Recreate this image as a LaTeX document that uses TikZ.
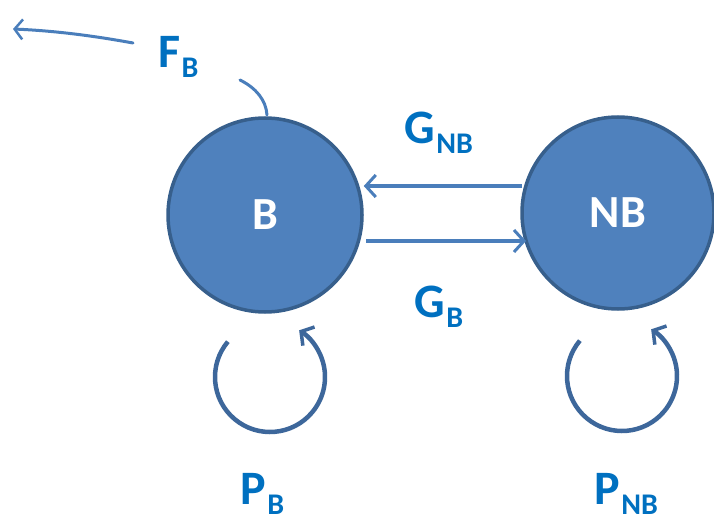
\documentclass[tikz,border=0pt]{standalone}
\usepackage{fontspec}
\setmainfont{Carlito}
\usetikzlibrary{arrows.meta}
\definecolor{cfill}{HTML}{4F81BD}
\definecolor{cdraw}{HTML}{375F8C}
\definecolor{carrow}{HTML}{4A7EBB}
\definecolor{cloop}{HTML}{3D679B}
\definecolor{clabel}{HTML}{0070C0}
\tikzset{
  state/.style={circle,fill=cfill,draw=cdraw,line width=3.5pt,text=white,font=\fontsize{46}{46}\selectfont\bfseries,inner sep=0pt},
  flow/.style={draw=carrow,line width=4.5pt,-{Straight Barb[length=10pt,width=22pt,line width=3pt]}},
  loop/.style={draw=cloop,line width=4.5pt,-{Straight Barb[length=9pt,width=22pt,line width=3.5pt]}},
  thin/.style={draw=carrow,line width=3pt},
  lbl/.style={text=clabel,anchor=base west,inner sep=0pt,font=\bfseries}
}
\newcommand{\lab}[2]{{\fontsize{48}{48}\selectfont #1}\kern1.5pt{\fontsize{30}{30}\selectfont\raisebox{-10pt}{#2}}}
\begin{document}
\begin{tikzpicture}[x=1pt,y=1pt]
\useasboundingbox (0,0) rectangle (714,-521);
\node[state,minimum size=194pt] (B) at (265,-215) {B};
\node[state,minimum size=192pt] (NB) at (618,-213) {NB};
% G arrows
\coordinate (g1s) at (522,-186);
\coordinate (g2s) at (366,-241);
\coordinate (g2e) at (526,-241);
\draw[flow] (g1s) -- (B.east |- g1s);
\draw[flow] (g2s) -- (g2e);
% F arrow
\coordinate (f1) at (240,-80);
\coordinate (ftop) at (267,-115);
\draw[thin,line cap=round] (f1) .. controls (256,-88) and (266,-100) .. (ftop);
\coordinate (fa) at (133,-43);
\coordinate (fb) at (13,-29);
\draw[thin,line cap=round,-{Straight Barb[length=8pt,width=20pt,line width=2.5pt]}] (fa) .. controls (100,-37) and (60,-31) .. (fb);
% loops
\coordinate (lb) at (270,-377);
\coordinate (lnb) at (622,-376);
\draw[loop] ([shift={(140:55)}]lb) arc[start angle=140,end angle=418,radius=55];
\draw[loop] ([shift={(140:55)}]lnb) arc[start angle=140,end angle=418,radius=55];
% labels
\node[lbl] (FB) at (158,-68) {\lab{F}{B}};
\node[lbl] (GNB) at (404,-144) {\lab{G}{NB}};
\node[lbl] (GB) at (414,-317) {\lab{G}{B}};
\node[lbl] (PB) at (240,-504) {\lab{P}{B}};
\node[lbl] (PNB) at (594,-504) {\lab{P}{NB}};
\end{tikzpicture}
\end{document}
